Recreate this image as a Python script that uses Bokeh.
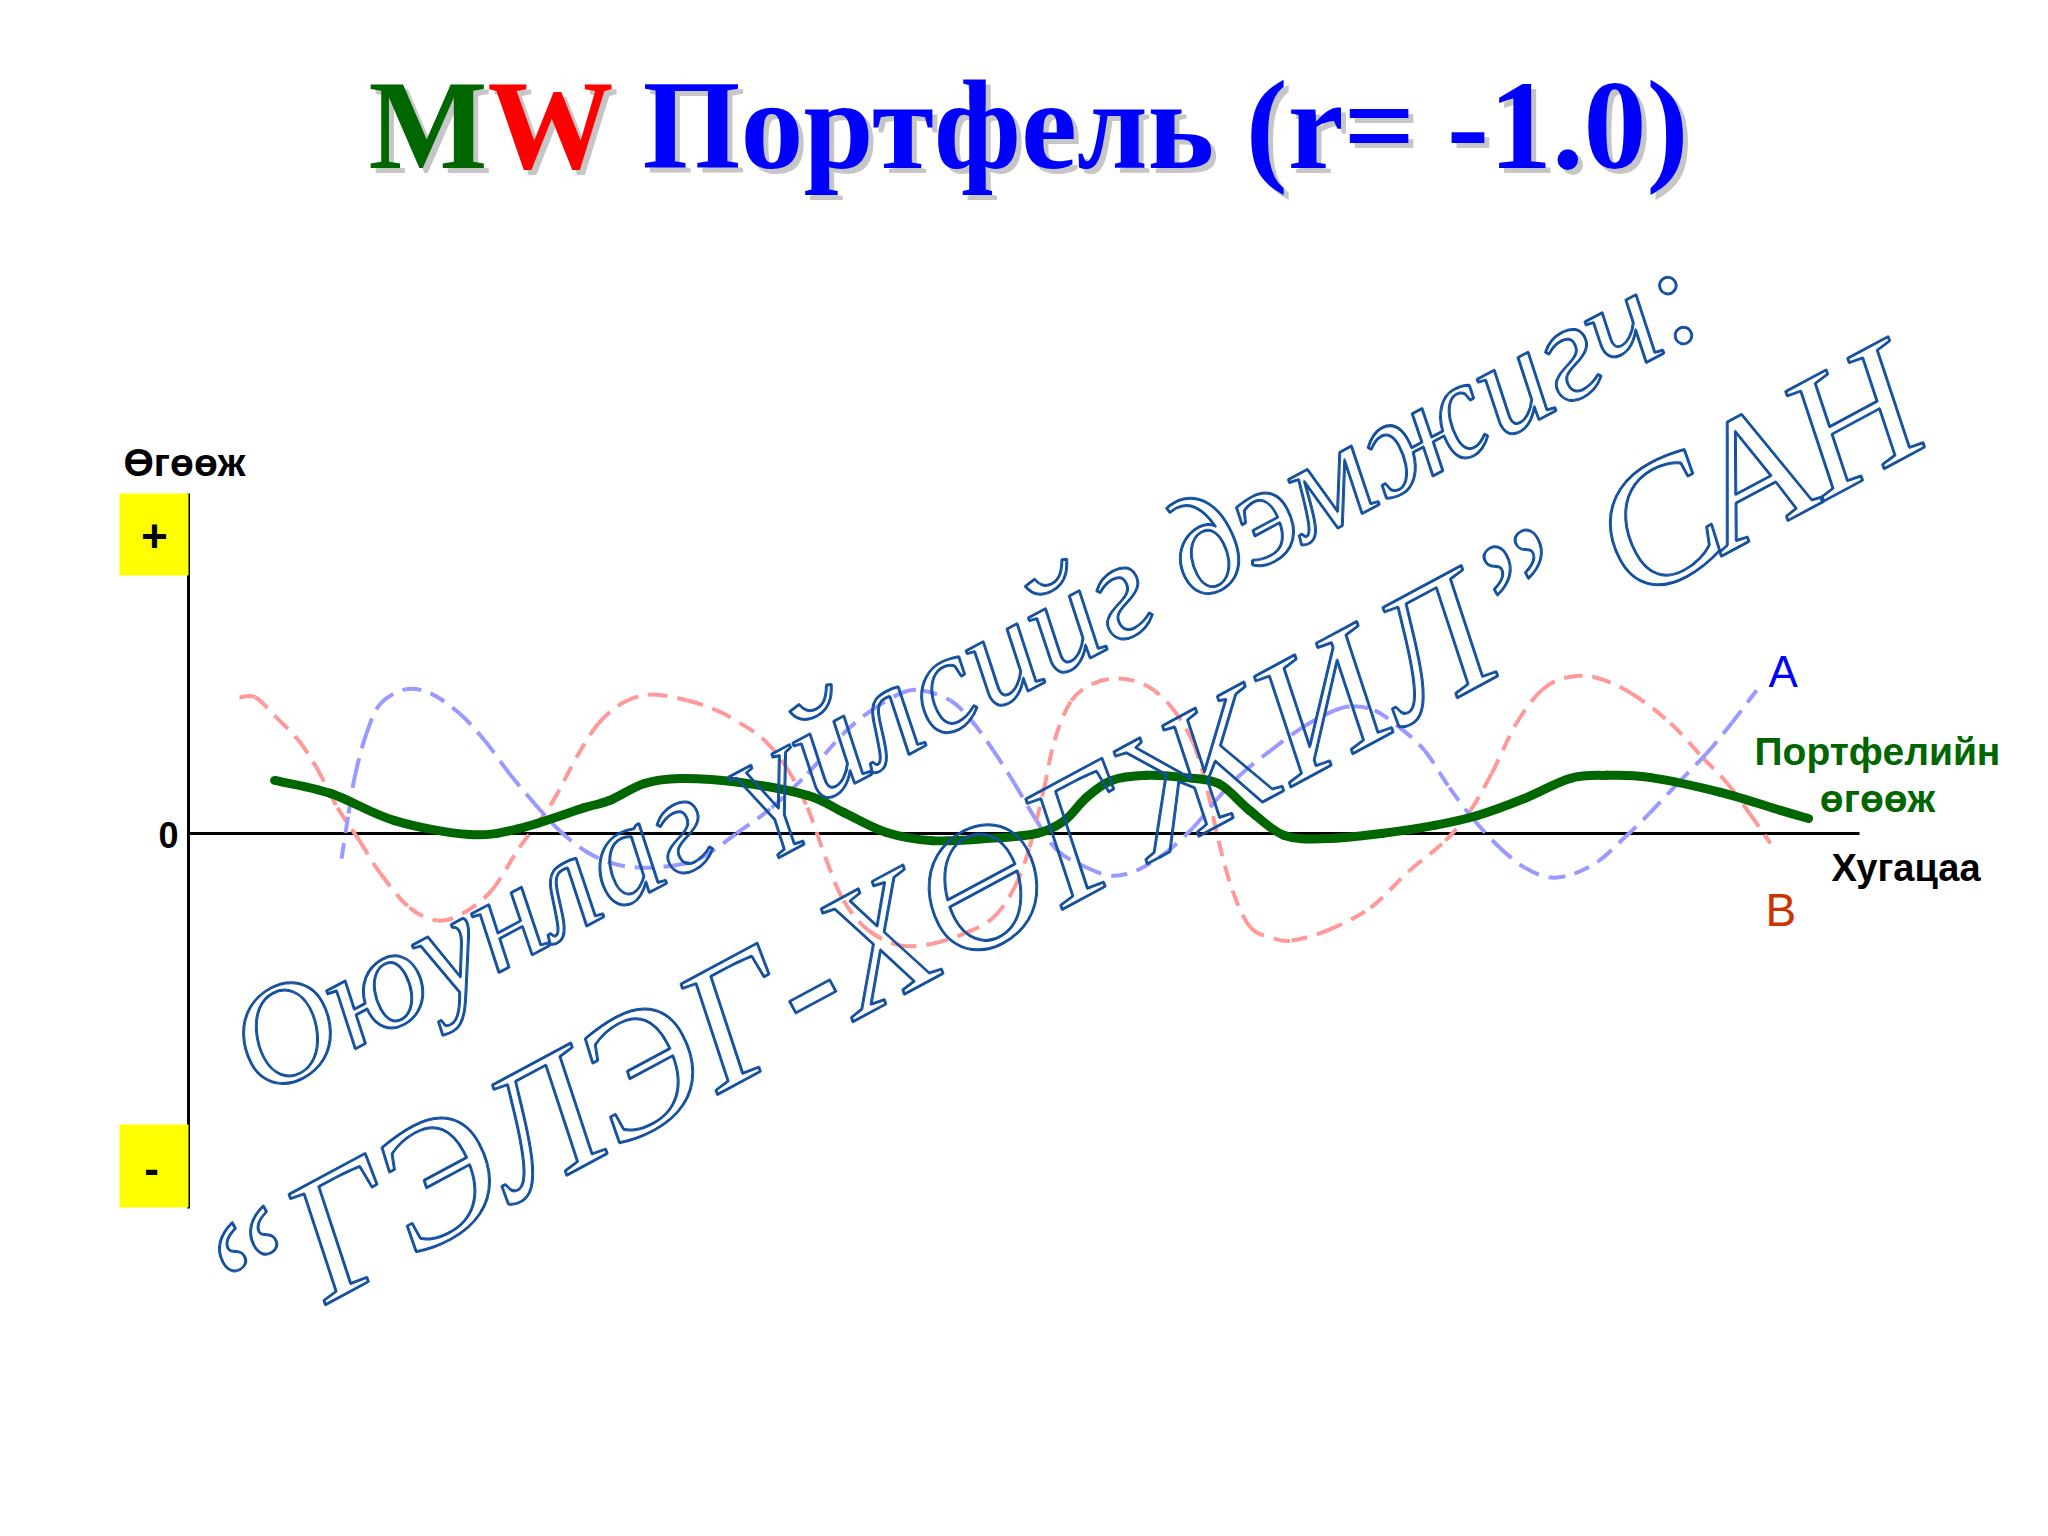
import math
from bokeh.plotting import figure
from bokeh.models import Label, BoxAnnotation, Range1d
from bokeh.embed import file_html
from bokeh.resources import INLINE

# ---------------- data (time in % of horizon, return in arbitrary units) ----------------
portfolio_t = [5.15, 8.5, 12.33, 16.82, 19.81, 23.7, 25.19, 27.29, 29.44, 33.03, 37.04, 39.2,
               41.77, 44.52, 47.76, 50.75, 52.42, 53.74, 55.24, 57.33, 59.49, 61.64, 63.5,
               65.59, 68.16, 71.39, 74.57, 77.14, 79.95, 82.7, 84.86, 87.43, 91.68, 95.27, 96.95]
portfolio_r = [1.56, 1.18, 0.38, -0.03, 0.15, 0.76, 0.97, 1.47, 1.62, 1.5, 1.12, 0.62,
               0.03, -0.21, -0.15, 0.0, 0.38, 1.06, 1.56, 1.71, 1.65, 1.47, 0.68,
               -0.06, -0.15, 0.0, 0.24, 0.53, 1.03, 1.62, 1.71, 1.65, 1.21, 0.68, 0.44]

asset_a_t = [9.16, 9.58, 9.99, 10.65, 11.49, 12.99, 14.48, 16.22, 17.71, 19.21, 20.71, 22.2,
             23.7, 25.19, 26.87, 29.02, 30.7, 32.79, 34.89, 37.04, 39.2, 40.87, 42.61, 43.87,
             45.6, 46.86, 48.17, 49.43, 50.75, 52.0, 53.74, 55.24, 56.73, 58.41, 60.14, 61.64,
             63.02, 64.75, 66.67, 68.58, 69.66, 70.98, 72.47, 73.97, 75.46, 76.96, 78.46,
             79.95, 81.45, 82.94, 84.44, 85.94, 87.43, 89.11, 90.84, 92.34, 93.84]
asset_a_r = [-0.74, 0.59, 1.76, 2.94, 3.82, 4.24, 4.12, 3.53, 2.74, 1.76, 0.88, 0.09,
             -0.5, -0.85, -1.0, -0.94, -0.71, 0.0, 0.76, 1.76, 2.94, 3.62, 4.12, 4.21,
             3.91, 3.32, 2.44, 1.47, 0.38, -0.5, -1.0, -1.24, -1.09, -0.59, 0.18, 1.06,
             1.76, 2.44, 3.12, 3.62, 3.74, 3.62, 3.12, 2.44, 1.35, 0.38, -0.41,
             -1.0, -1.29, -1.18, -0.79, -0.12, 0.59, 1.47, 2.35, 3.24, 4.21]

asset_b_t = [3.05, 4.01, 5.27, 6.58, 7.66, 8.92, 10.23, 11.49, 13.23, 14.9, 16.4, 18.13,
             19.81, 21.72, 23.22, 24.54, 26.03, 27.71, 29.86, 31.6, 33.03, 34.47, 35.79,
             37.04, 38.12, 39.2, 40.69, 42.61, 44.52, 46.44, 48.17, 49.43, 50.33, 51.17,
             51.83, 52.84, 54.16, 55.66, 57.33, 58.83, 60.14, 60.98, 61.64, 62.48, 63.55,
             64.99, 66.01, 68.16, 70.74, 73.07, 75.22, 76.72, 77.98, 79.47, 80.97, 82.47,
             84.2, 86.36, 88.69, 90.6, 92.1, 93.42, 94.67]
asset_b_r = [4.0, 4.0, 3.41, 2.74, 1.94, 0.76, -0.21, -1.18, -2.18, -2.56, -2.35, -1.68,
             -0.41, 0.88, 2.24, 3.24, 3.85, 4.09, 3.91, 3.62, 3.24, 2.74, 1.94,
             0.76, -0.71, -1.97, -2.85, -3.29, -3.24, -2.94, -2.47, -1.59, -0.41, 1.26,
             2.74, 3.91, 4.41, 4.56, 4.35, 3.71, 2.65, 1.26, -0.21, -1.68, -2.76,
             -3.09, -3.15, -2.85, -2.18, -1.09, -0.21, 0.68, 1.76, 3.24, 4.21, 4.59,
             4.59, 4.12, 3.24, 2.24, 1.47, 0.59, -0.29]

TIME_END = 100          # right end of the time axis
RET_TOP, RET_BOTTOM = 10.0, -11.03   # extent of the return axis

title_parts = ["M", "W", "Портфель (r= -1.0)"]
title_colors = ["#006600", "#FF0000", "#0000FF"]
wm_line1 = "Оюунлаг үйлсийг дэмжигч:"
wm_line2 = "“ГЭЛЭГ-ХӨГЖИЛ” САН"

# ---------------- layout ----------------
W, H = 2032, 1520
ORIGIN_X, ORIGIN_Y = 188, 833     # picture pixel of (t=0, r=0)
PX_T, PX_R = 16.71, 34.0
BASE_FIX = 0.38                   # alphabetic baseline correction (em)


def tx(X):
    return (X - ORIGIN_X) / PX_T


def ry(Y):
    return (ORIGIN_Y - Y) / PX_R


p = figure(width=W, height=H, output_backend="svg", toolbar_location=None,
           x_range=Range1d(tx(0), tx(W)), y_range=Range1d(ry(H), ry(0)),
           x_axis_type=None, y_axis_type=None, min_border=0, outline_line_color=None,
           background_fill_color="white", border_fill_color="white")
p.grid.visible = False


def lab(X, Y, text, size, color, font="Liberation Sans", style="bold", align="left",
        baseline="alphabetic", angle=0, **kw):
    if baseline == "alphabetic":
        a = math.radians(angle)
        X -= math.sin(a) * BASE_FIX * size
        Y -= math.cos(a) * BASE_FIX * size
    p.add_layout(Label(x=tx(X), y=ry(Y), text=text, text_font=font,
                       text_font_size=f"{size}px", text_font_style=style, text_color=color,
                       text_align=align, text_baseline=baseline, angle=angle,
                       angle_units="deg", **kw))


def smooth(ts, rs, **kw):
    """Draw a smooth curve through the read points (Catmull-Rom as cubic Beziers)."""
    n = len(ts)
    x0, y0, x1, y1, cx0, cy0, cx1, cy1 = [], [], [], [], [], [], [], []
    for i in range(n - 1):
        a = i - 1 if i > 0 else i
        d = i + 2 if i + 2 < n else i + 1
        x0.append(ts[i]); y0.append(rs[i]); x1.append(ts[i + 1]); y1.append(rs[i + 1])
        cx0.append(ts[i] + (ts[i + 1] - ts[a]) / 6); cy0.append(rs[i] + (rs[i + 1] - rs[a]) / 6)
        cx1.append(ts[i + 1] - (ts[d] - ts[i]) / 6); cy1.append(rs[i + 1] - (rs[d] - rs[i]) / 6)
    p.bezier(x0=x0, y0=y0, x1=x1, y1=y1, cx0=cx0, cy0=cy0, cx1=cx1, cy1=cy1, **kw)


# yellow sign boxes
p.add_layout(BoxAnnotation(left=tx(119), right=tx(188), top=ry(493), bottom=ry(575),
                           fill_color="#FFFF00", fill_alpha=1, line_color=None))
p.add_layout(BoxAnnotation(left=tx(119), right=tx(188), top=ry(1124), bottom=ry(1207),
                           fill_color="#FFFF00", fill_alpha=1, line_color=None))

# axes
p.segment(x0=[0], y0=[0], x1=[TIME_END], y1=[0], line_color="black", line_width=3)
p.segment(x0=[0], y0=[RET_TOP], x1=[0], y1=[RET_BOTTOM], line_color="black", line_width=3)

# series
smooth(asset_b_t, asset_b_r, line_color="#FF9999", line_width=4, line_dash="16 10")
smooth(asset_a_t, asset_a_r, line_color="#9999FF", line_width=4, line_dash="16 10")
smooth(portfolio_t, portfolio_r, line_color="#006600", line_width=9, line_cap="round")

# axis texts
lab(123, 477, "Өгөөж", 39, "black")
lab(178, 848, "0", 36, "black", align="right")
lab(154, 535, "+", 46, "black", align="center", baseline="middle")
lab(151, 1168, "-", 44, "black", align="center", baseline="middle")
lab(1831, 882, "Хугацаа", 38, "black")
lab(1768, 688, "A", 44, "#0000FF", style="normal")
lab(1765, 927, "B", 46, "#CC3300", style="normal")
lab(1877, 766, "Портфелийн", 39, "#006600", align="center")
lab(1877, 813, "өгөөж", 39, "#006600", align="center")

# title with shadow
title_x = [368, 487, 642]
for part, X in zip(title_parts, title_x):
    lab(X + 5, 178, part, 126, "#A0A0A0", font="Liberation Serif", text_alpha=0.6)
for part, col, X in zip(title_parts, title_colors, title_x):
    lab(X, 173, part, 126, col, font="Liberation Serif")

# watermark (hollow outlined text), outline thickened by small offsets
for dx, dy in [(0, 0), (1, 0), (-1, 0), (0, 1), (0, -1)]:
    lab(264 + dx, 1103 + dy, wm_line1, 141, (255, 255, 255, 0.0), font="Liberation Serif",
        style="italic", angle=28, text_outline_color="#14509E")
    lab(244 + dx, 1356 + dy, wm_line2, 175, (255, 255, 255, 0.0), font="Liberation Serif",
        style="italic", angle=28.2, text_outline_color="#14509E")

open("out.html", "w").write(file_html(p, INLINE))
